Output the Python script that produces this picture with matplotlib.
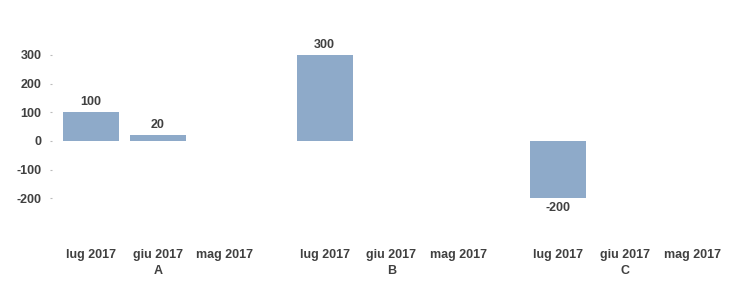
import matplotlib
matplotlib.use("Agg")
import matplotlib.pyplot as plt
import matplotlib.transforms as mtransforms
import numpy as np

groups = ["A", "B", "C"]
periods = ["lug 2017", "giu 2017", "mag 2017"]
values_A = [100, 20, None]
values_B = [300, None, None]
values_C = [-200, None, None]
yticks = [300, 200, 100, 0, -100, -200]

plt.rcParams['font.family'] = ['Liberation Sans', 'DejaVu Sans']
txt = '#404040'
bar_color = '#8eaac9'

W, H = 749, 286
fig = plt.figure(figsize=(W / 100, H / 100), dpi=100)
left_px, right_px, top_px, bot_px = 52, 731, 26.3, 227
ax = fig.add_axes([left_px / W, 1 - bot_px / H, (right_px - left_px) / W, (bot_px - top_px) / H])

all_vals = [values_A, values_B, values_C]
positions = []
labels = []
for gi, vals in enumerate(all_vals):
    for pi, v in enumerate(vals):
        x = gi * 3.5 + pi
        positions.append(x)
        labels.append(periods[pi])
        if v is None:
            continue
        ax.bar(x, v, width=0.84, color=bar_color, zorder=2)
        if v >= 0:
            ax.annotate(f"{v}", (x, v), xytext=(0, 3), textcoords='offset points',
                        ha='center', va='bottom', fontsize=9, fontweight='bold', color=txt)
        else:
            ax.annotate(f"{v}", (x, v), xytext=(0, -3), textcoords='offset points',
                        ha='center', va='top', fontsize=9, fontweight='bold', color=txt)

ax.set_xlim(-0.584, 9.584)
ax.set_ylim(-300, 400)
ax.set_yticks(yticks)
ax.set_yticklabels([str(t) for t in yticks])
ax.set_xticks(positions)
ax.set_xticklabels(labels)
ax.tick_params(axis='y', length=1.5, width=0.8, color='#bbbbbb', pad=6, labelsize=9, labelcolor=txt)
ax.tick_params(axis='x', length=0, pad=16, labelsize=9, labelcolor=txt)
for lbl in ax.get_xticklabels() + ax.get_yticklabels():
    lbl.set_fontweight('bold')
for s in ax.spines.values():
    s.set_visible(False)

trans = mtransforms.blended_transform_factory(ax.transData, fig.transFigure)
for gi, g in enumerate(groups):
    ax.text(gi * 3.5 + 1, 1 - 271 / H, g, transform=trans, ha='center', va='center',
            fontsize=9, fontweight='bold', color=txt)

fig.savefig("out.png", dpi=100)
